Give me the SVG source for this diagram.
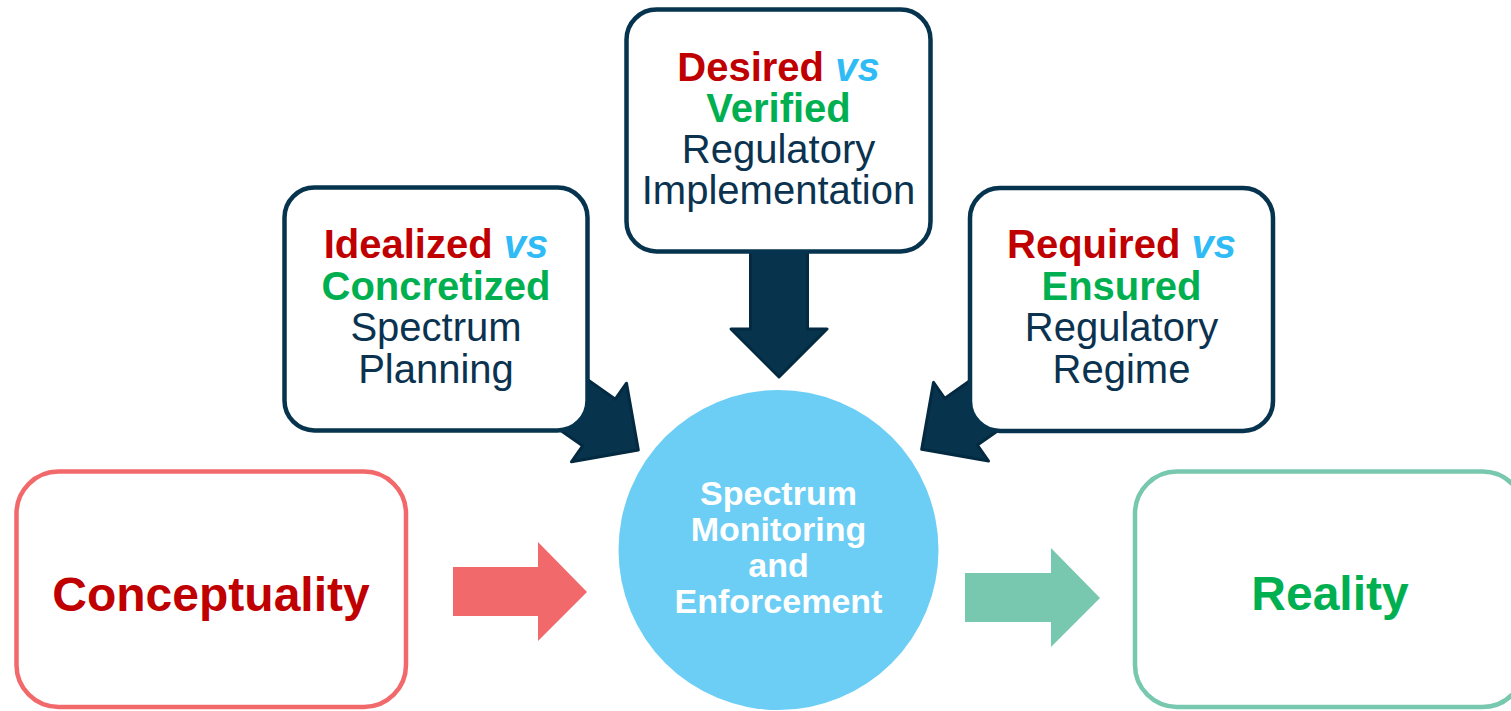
<svg xmlns="http://www.w3.org/2000/svg" width="1511" height="711" viewBox="0 0 1511 711">
<style>
text{font-family:"Liberation Sans",Arial,sans-serif;}
.box{fill:#fff;stroke:#06344E;stroke-width:4.5;}
.dark{fill:#07334D;stroke:#032A40;stroke-width:3;stroke-linejoin:round;}
.t40{font-size:40px;text-anchor:middle;fill:#0B3350;}
.b{font-weight:bold;}
.red{fill:#C00000;}
.grn{fill:#00B050;}
.vs{fill:#2FBBF5;font-style:italic;font-weight:bold;}
.ctext{font-size:34px;font-weight:bold;fill:#fff;text-anchor:middle;}
</style>
<defs>
<path id="bigArrow" d="M0,0 L-48,-48 L-48,-28.5 L-130,-28.5 L-130,28.5 L-48,28.5 L-48,48 Z"/>
<path id="diagArrow" d="M0,0 L-48,-48 L-48,-28.5 L-100,-28.5 L-100,28.5 L-48,28.5 L-48,48 Z"/>
</defs>
<rect width="1511" height="711" fill="#fff"/>
<g id="connectors">
<use href="#bigArrow" class="dark" transform="translate(779,377) rotate(90)"/>
<use href="#diagArrow" class="dark" transform="translate(638.3,450) rotate(35)"/>
<use href="#diagArrow" class="dark" transform="translate(921.7,449.3) rotate(145)"/>
<path d="M453,567 L538,567 L538,542 L587,592 L538,641 L538,616 L453,616 Z" fill="#F2696B"/>
<path d="M965,573 L1051,573 L1051,548 L1100,598 L1051,647 L1051,622 L965,622 Z" fill="#77C8AE"/>
</g>
<g id="conceptuality">
<rect x="16.5" y="471.5" width="389.5" height="235.5" rx="42" fill="#fff" stroke="#F2696B" stroke-width="4.5"/>
<text x="211" y="611" font-size="48" font-weight="bold" fill="#C00000" text-anchor="middle">Conceptuality</text>
</g>
<g id="reality">
<rect x="1135" y="471.5" width="389.5" height="235.5" rx="42" fill="#fff" stroke="#77C8AE" stroke-width="4.5"/>
<text x="1330" y="610" font-size="48" font-weight="bold" fill="#00B050" text-anchor="middle">Reality</text>
</g>
<g id="planning">
<rect class="box" x="284.5" y="187.5" width="303" height="243" rx="30"/>
<text class="t40" x="436" y="258"><tspan class="b red">Idealized </tspan><tspan class="vs">vs</tspan></text>
<text class="t40 b grn" x="436" y="299.5">Concretized</text>
<text class="t40" x="436" y="341">Spectrum</text>
<text class="t40" x="436" y="382.5">Planning</text>
</g>
<g id="implementation">
<rect class="box" x="626.5" y="9.5" width="304" height="242" rx="30"/>
<text class="t40" x="778.5" y="81"><tspan class="b red">Desired </tspan><tspan class="vs">vs</tspan></text>
<text class="t40 b grn" x="778.5" y="122">Verified</text>
<text class="t40" x="778.5" y="163">Regulatory</text>
<text class="t40" x="778.5" y="204">Implementation</text>
</g>
<g id="regime">
<rect class="box" x="970" y="188" width="303" height="243" rx="30"/>
<text class="t40" x="1121.5" y="258"><tspan class="b red">Required </tspan><tspan class="vs">vs</tspan></text>
<text class="t40 b grn" x="1121.5" y="300">Ensured</text>
<text class="t40" x="1121.5" y="341">Regulatory</text>
<text class="t40" x="1121.5" y="382.5">Regime</text>
</g>
<g id="monitoring">
<circle cx="778.5" cy="550" r="160" fill="#6DCEF5"/>
<text class="ctext" x="778.5" y="505">Spectrum</text>
<text class="ctext" x="778.5" y="541">Monitoring</text>
<text class="ctext" x="778.5" y="577">and</text>
<text class="ctext" x="778.5" y="613">Enforcement</text>
</g>
</svg>
